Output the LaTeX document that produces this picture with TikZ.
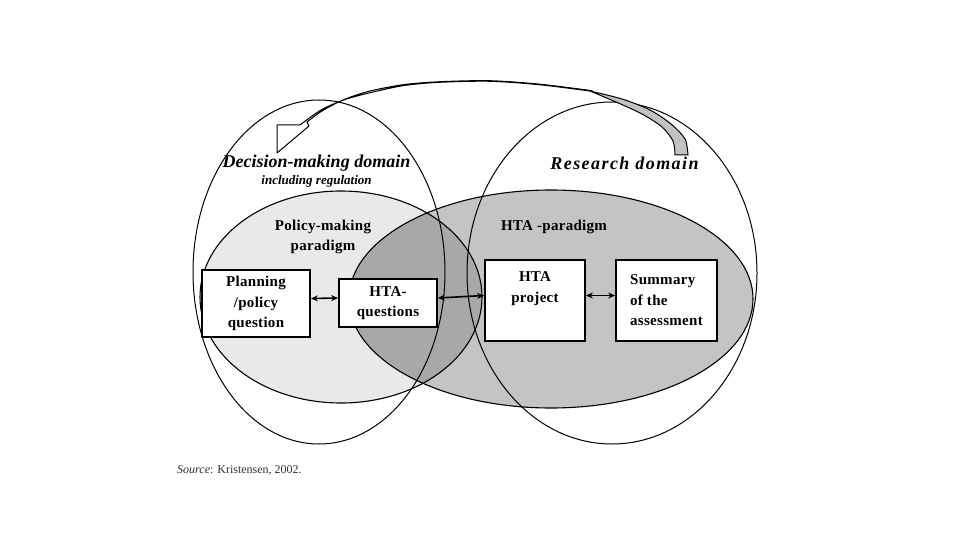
\documentclass[tikz,border=0pt]{standalone}
\usepackage{fontspec}
\setmainfont{Liberation Serif}
\usetikzlibrary{arrows.meta}
\definecolor{lightfill}{HTML}{E9E9E9}
\definecolor{midfill}{HTML}{C4C4C4}
\definecolor{darkfill}{HTML}{A8A8A8}
\definecolor{bandfill}{HTML}{C2C2C2}
\definecolor{srcgray}{HTML}{333333}
\newcommand{\boxfont}{\fontsize{15}{20.5}\selectfont\bfseries\addfontfeature{LetterSpace=2}}
\newcommand{\domfont}{\fontsize{18}{20}\selectfont\bfseries\itshape}
\tikzset{
  outline/.style={draw=black, line width=1.1pt},
  box/.style={draw=black, line width=1.8pt, fill=white, inner sep=0pt, align=center, font=\boxfont},
  link/.style={line width=1.6pt, {Stealth[length=7pt,width=6pt]}-{Stealth[length=7pt,width=6pt]}},
  plain/.style={inner sep=0pt, align=center},
}
\begin{document}
\begin{tikzpicture}[x=1pt,y=-1pt]
\useasboundingbox (0,0) rectangle (960,540);
\fill[white] (0,0) rectangle (960,540);
% fills
\fill[lightfill] (341,297) ellipse [x radius=141, y radius=106];
\fill[midfill] (551,299) ellipse [x radius=202, y radius=109];
\begin{scope}
  \clip (341,297) ellipse [x radius=141, y radius=106];
  \fill[darkfill] (551,299) ellipse [x radius=202, y radius=109];
\end{scope}
% outlines
\draw[outline] (341,297) ellipse [x radius=141, y radius=106];
\draw[outline] (551,299) ellipse [x radius=202, y radius=109];
\draw[outline, line width=1pt] (319,272) ellipse [x radius=126, y radius=172];
\draw[outline, line width=1pt] (612,273) ellipse [x radius=145, y radius=171];
% big curved arrow: right gray band
\draw[line width=1pt, fill=bandfill] plot[smooth] coordinates {(688,155) (685,139) (671,124) (650,110) (622,99) (590,91)}
  -- plot[smooth] coordinates {(590,91) (616,102) (642,114) (662,127) (673,141) (675,155)} -- cycle;
% arc over the top with the hollow arrowhead
\draw[line width=1pt, fill=white, line join=round]
  plot[smooth] coordinates {(592,90.7) (540,84.2) (490,80.7) (440,81.7) (403,84.7) (368,91.5) (343,100) (322,111) (307,122)}
  -- (309,126) -- (277,153) -- (277,125) -- (300,125)
  -- plot[smooth] coordinates {(300,125) (321,110) (345,99.5) (374,91.8) (405,85.4) (440,82.3) (490,81.3) (540,84.8) (592,91.3)} -- cycle;
% texts
\node[plain, font=\domfont] (dmd) at (316.5,163) {Decision-making domain};
\node[plain, font=\fontsize{13}{15}\selectfont\bfseries\itshape] (reg) at (316.5,181) {including regulation};
\node[plain, font=\domfont\addfontfeature{LetterSpace=8}] (rd) at (624.5,163) {Research domain};
\node[plain, font=\boxfont] (pmp) at (323,237) {Policy-making\\paradigm};
\node[plain, font=\boxfont] (htap) at (554,227) {HTA -paradigm};
% boxes
\node[box, minimum width=108pt, minimum height=67pt] (plan) at (256,303.5) {Planning\\/policy\\question};
\node[box, minimum width=98pt, minimum height=48pt] (htaq) at (388,303) {HTA-\\questions};
\node[box, minimum width=100pt, minimum height=81pt] (proj) at (535,300.5) {HTA\\project\\\strut};
\node[box, minimum width=101pt, minimum height=81pt, align=left] (summ) at (666.5,300.5) {Summary\\of the\\assessment};
% connectors
\draw[link] ([yshift=5pt]plan.east) -- ([yshift=5pt]htaq.west);
\draw[link] ([yshift=5pt]htaq.east) -- ([yshift=5pt]proj.west);
\draw[link] ([yshift=5pt]proj.east) -- ([yshift=5pt]summ.west);
% source
\node[anchor=west, inner sep=0pt, text=srcgray, font=\fontsize{12}{14}\selectfont] (src) at (177,470) {\textit{Source}: Kristensen, 2002.};
\end{tikzpicture}
\end{document}
